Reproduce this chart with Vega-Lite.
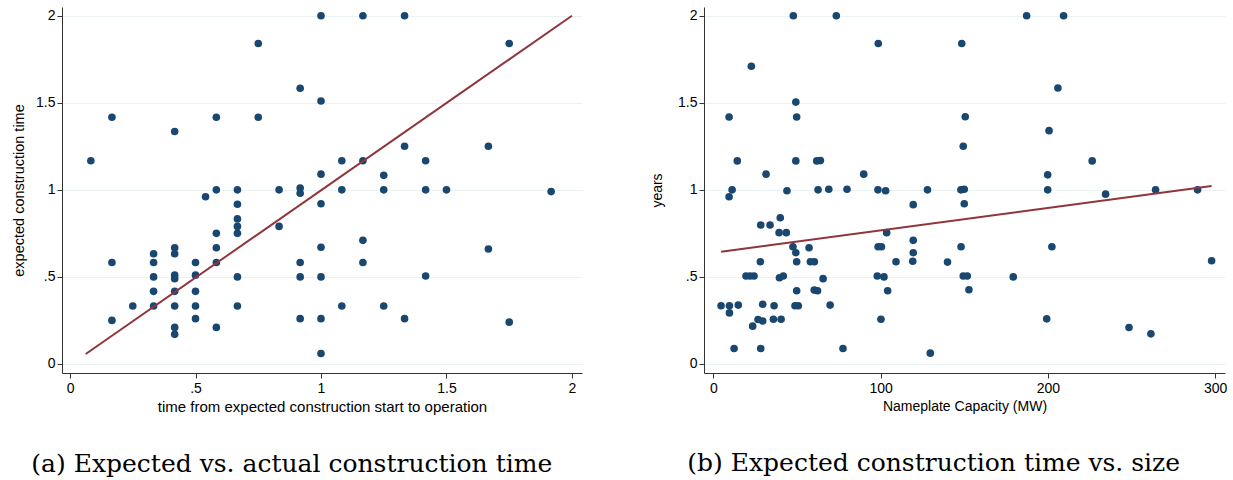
{
  "$schema": "https://vega.github.io/schema/vega-lite/v6.json",
  "padding": {"left": 11, "top": 7, "right": 0, "bottom": 0},
  "background": "white",
  "spacing": 122,
  "bounds": "flush",
  "config": {
    "view": {"stroke": null},
    "font": "Liberation Sans",
    "axis": {
      "domainColor": "#333333",
      "tickColor": "#333333",
      "domainWidth": 1,
      "tickWidth": 1,
      "tickSize": 5,
      "labelFont": "Liberation Sans",
      "titleFont": "Liberation Sans",
      "labelFontSize": 14,
      "titleFontSize": 14,
      "titleFontWeight": "normal",
      "labelColor": "#000000",
      "titleColor": "#000000",
      "labelPadding": 3
    },
    "axisX": {"grid": false, "titlePadding": 5},
    "axisY": {"grid": true, "gridColor": "#eaf2f3", "gridWidth": 1.2, "labelAngle": 0, "titlePadding": 10, "labelPadding": 2},
    "title": {
      "font": "DejaVu Serif",
      "fontSize": 25,
      "fontWeight": "normal",
      "color": "#000000",
      "orient": "bottom",
      "anchor": "middle",
      "frame": "bounds",
      "offset": 38,
      "dx": -5
    }
  },
  "datasets": {
    "a": [
      {"x": 0.083, "y": 1.167}, {"x": 0.167, "y": 1.417}, {"x": 0.167, "y": 0.583}, {"x": 0.167, "y": 0.25},
      {"x": 0.25, "y": 0.333}, {"x": 0.333, "y": 0.633}, {"x": 0.333, "y": 0.583}, {"x": 0.333, "y": 0.5},
      {"x": 0.333, "y": 0.417}, {"x": 0.333, "y": 0.333}, {"x": 0.417, "y": 1.335}, {"x": 0.417, "y": 0.667},
      {"x": 0.417, "y": 0.633}, {"x": 0.417, "y": 0.51}, {"x": 0.417, "y": 0.49}, {"x": 0.417, "y": 0.417},
      {"x": 0.417, "y": 0.333}, {"x": 0.417, "y": 0.21}, {"x": 0.417, "y": 0.17}, {"x": 0.5, "y": 0.583},
      {"x": 0.5, "y": 0.51}, {"x": 0.5, "y": 0.417}, {"x": 0.5, "y": 0.333}, {"x": 0.5, "y": 0.26},
      {"x": 0.54, "y": 0.96}, {"x": 0.583, "y": 1.417}, {"x": 0.583, "y": 1.0}, {"x": 0.583, "y": 0.75},
      {"x": 0.583, "y": 0.667}, {"x": 0.583, "y": 0.583}, {"x": 0.583, "y": 0.21}, {"x": 0.667, "y": 1.0},
      {"x": 0.667, "y": 0.917}, {"x": 0.667, "y": 0.833}, {"x": 0.667, "y": 0.79}, {"x": 0.667, "y": 0.75},
      {"x": 0.667, "y": 0.5}, {"x": 0.667, "y": 0.333}, {"x": 0.75, "y": 1.84}, {"x": 0.75, "y": 1.417},
      {"x": 0.833, "y": 1.0}, {"x": 0.833, "y": 0.79}, {"x": 0.917, "y": 1.583}, {"x": 0.917, "y": 1.01},
      {"x": 0.917, "y": 0.98}, {"x": 0.917, "y": 0.583}, {"x": 0.917, "y": 0.5}, {"x": 0.917, "y": 0.26},
      {"x": 1.0, "y": 2.0}, {"x": 1.0, "y": 1.51}, {"x": 1.0, "y": 1.09}, {"x": 1.0, "y": 0.92},
      {"x": 1.0, "y": 0.67}, {"x": 1.0, "y": 0.5}, {"x": 1.0, "y": 0.26}, {"x": 1.0, "y": 0.06},
      {"x": 1.083, "y": 1.167}, {"x": 1.083, "y": 1.0}, {"x": 1.083, "y": 0.333}, {"x": 1.167, "y": 2.0},
      {"x": 1.167, "y": 1.167}, {"x": 1.167, "y": 0.71}, {"x": 1.167, "y": 0.583}, {"x": 1.25, "y": 1.083},
      {"x": 1.25, "y": 1.0}, {"x": 1.25, "y": 0.333}, {"x": 1.333, "y": 2.0}, {"x": 1.333, "y": 1.25},
      {"x": 1.333, "y": 0.26}, {"x": 1.417, "y": 1.167}, {"x": 1.417, "y": 1.0}, {"x": 1.417, "y": 0.505},
      {"x": 1.5, "y": 1.0}, {"x": 1.667, "y": 1.25}, {"x": 1.667, "y": 0.66}, {"x": 1.75, "y": 1.84},
      {"x": 1.75, "y": 0.24}, {"x": 1.917, "y": 0.99}
    ],
    "afit": [{"x": 0.0625, "y": 0.057}, {"x": 2.0, "y": 2.0}],
    "b": [
      {"mw": 9.4, "y": 1.418}, {"mw": 47.8, "y": 2.0}, {"mw": 73.5, "y": 2.0}, {"mw": 98.6, "y": 1.84},
      {"mw": 22.7, "y": 1.71}, {"mw": 49.3, "y": 1.504}, {"mw": 49.8, "y": 1.418}, {"mw": 14.3, "y": 1.166},
      {"mw": 49.3, "y": 1.166}, {"mw": 61.8, "y": 1.166}, {"mw": 64.0, "y": 1.168}, {"mw": 31.5, "y": 1.09},
      {"mw": 89.9, "y": 1.09}, {"mw": 11.2, "y": 1.0}, {"mw": 9.4, "y": 0.96}, {"mw": 44.0, "y": 0.995},
      {"mw": 62.6, "y": 1.0}, {"mw": 69.0, "y": 1.003}, {"mw": 79.9, "y": 1.003}, {"mw": 98.4, "y": 1.0},
      {"mw": 103.0, "y": 0.995}, {"mw": 119.5, "y": 0.915}, {"mw": 128.0, "y": 1.0}, {"mw": 40.0, "y": 0.84},
      {"mw": 187.3, "y": 2.0}, {"mw": 209.4, "y": 2.0}, {"mw": 148.5, "y": 1.84}, {"mw": 206.0, "y": 1.585},
      {"mw": 150.6, "y": 1.42}, {"mw": 200.7, "y": 1.34}, {"mw": 149.4, "y": 1.25}, {"mw": 226.5, "y": 1.166},
      {"mw": 199.9, "y": 1.086}, {"mw": 148.0, "y": 1.0}, {"mw": 150.0, "y": 1.003}, {"mw": 199.9, "y": 1.0},
      {"mw": 234.5, "y": 0.975}, {"mw": 264.4, "y": 1.0}, {"mw": 289.5, "y": 1.0}, {"mw": 150.0, "y": 0.92},
      {"mw": 28.3, "y": 0.798}, {"mw": 33.9, "y": 0.798}, {"mw": 39.3, "y": 0.754}, {"mw": 43.6, "y": 0.754},
      {"mw": 103.6, "y": 0.754}, {"mw": 119.5, "y": 0.71}, {"mw": 47.6, "y": 0.673}, {"mw": 49.3, "y": 0.639},
      {"mw": 57.2, "y": 0.667}, {"mw": 98.5, "y": 0.673}, {"mw": 100.5, "y": 0.673}, {"mw": 119.5, "y": 0.639},
      {"mw": 28.1, "y": 0.587}, {"mw": 49.8, "y": 0.587}, {"mw": 58.0, "y": 0.587}, {"mw": 60.4, "y": 0.587},
      {"mw": 109.2, "y": 0.587}, {"mw": 119.2, "y": 0.59}, {"mw": 140.0, "y": 0.585}, {"mw": 19.5, "y": 0.505},
      {"mw": 21.9, "y": 0.505}, {"mw": 24.3, "y": 0.505}, {"mw": 39.5, "y": 0.495}, {"mw": 41.8, "y": 0.505},
      {"mw": 98.0, "y": 0.505}, {"mw": 102.0, "y": 0.5}, {"mw": 65.6, "y": 0.49}, {"mw": 49.8, "y": 0.42},
      {"mw": 60.3, "y": 0.424}, {"mw": 62.3, "y": 0.42}, {"mw": 104.2, "y": 0.42}, {"mw": 4.6, "y": 0.334},
      {"mw": 9.6, "y": 0.334}, {"mw": 14.9, "y": 0.338}, {"mw": 29.5, "y": 0.343}, {"mw": 36.3, "y": 0.334},
      {"mw": 48.8, "y": 0.334}, {"mw": 50.8, "y": 0.334}, {"mw": 69.8, "y": 0.338}, {"mw": 9.6, "y": 0.293},
      {"mw": 23.5, "y": 0.217}, {"mw": 26.7, "y": 0.255}, {"mw": 29.5, "y": 0.247}, {"mw": 35.9, "y": 0.257},
      {"mw": 40.5, "y": 0.257}, {"mw": 100.2, "y": 0.257}, {"mw": 12.4, "y": 0.089}, {"mw": 28.3, "y": 0.089},
      {"mw": 77.5, "y": 0.089}, {"mw": 129.7, "y": 0.062}, {"mw": 148.1, "y": 0.673}, {"mw": 202.4, "y": 0.673},
      {"mw": 297.9, "y": 0.593}, {"mw": 149.4, "y": 0.505}, {"mw": 151.8, "y": 0.505}, {"mw": 179.3, "y": 0.5},
      {"mw": 152.8, "y": 0.426}, {"mw": 199.3, "y": 0.259}, {"mw": 248.5, "y": 0.209}, {"mw": 261.6, "y": 0.173}
    ],
    "bfit": [{"mw": 4.6, "y": 0.645}, {"mw": 297.9, "y": 1.022}]
  },
  "hconcat": [
    {
      "width": 520,
      "height": 366,
      "title": {"text": "(a) Expected vs. actual construction time"},
      "layer": [
        {
          "data": {"name": "a"},
          "mark": {"type": "point", "filled": true, "size": 58, "color": "#1a476f", "opacity": 1},
          "encoding": {
            "x": {"field": "x", "type": "quantitative", "scale": {"domain": [-0.032, 2.04], "nice": false, "zero": false},
                  "axis": {"values": [0, 0.5, 1, 1.5, 2], "title": "time from expected construction start to operation", "titleFontSize": 15, "titlePadding": 4,
                           "labelExpr": "datum.value == 0.5 ? '.5' : format(datum.value, '~g')"}},
            "y": {"field": "y", "type": "quantitative", "scale": {"domain": [-0.052, 2.05], "nice": false, "zero": false},
                  "axis": {"values": [0, 0.5, 1, 1.5, 2], "title": "expected construction time", "titleFontSize": 14.5, "titlePadding": 9,
                           "labelExpr": "datum.value == 0.5 ? '.5' : format(datum.value, '~g')"}}
          }
        },
        {
          "data": {"name": "afit"},
          "mark": {"type": "line", "color": "#90353b", "strokeWidth": 2},
          "encoding": {
            "x": {"field": "x", "type": "quantitative"},
            "y": {"field": "y", "type": "quantitative"}
          }
        }
      ]
    },
    {
      "width": 521,
      "height": 366,
      "title": {"text": "(b) Expected construction time vs. size"},
      "layer": [
        {
          "data": {"name": "b"},
          "mark": {"type": "point", "filled": true, "size": 58, "color": "#1a476f", "opacity": 1},
          "encoding": {
            "x": {"field": "mw", "type": "quantitative", "scale": {"domain": [-5.6, 305.9], "nice": false, "zero": false},
                  "axis": {"values": [0, 100, 200, 300], "title": "Nameplate Capacity (MW)", "format": "d", "titlePadding": 4}},
            "y": {"field": "y", "type": "quantitative", "scale": {"domain": [-0.052, 2.05], "nice": false, "zero": false},
                  "axis": {"values": [0, 0.5, 1, 1.5, 2], "title": "years", "titlePadding": 13,
                           "labelExpr": "datum.value == 0.5 ? '.5' : format(datum.value, '~g')"}}
          }
        },
        {
          "data": {"name": "bfit"},
          "mark": {"type": "line", "color": "#90353b", "strokeWidth": 2},
          "encoding": {
            "x": {"field": "mw", "type": "quantitative"},
            "y": {"field": "y", "type": "quantitative"}
          }
        }
      ]
    }
  ]
}
